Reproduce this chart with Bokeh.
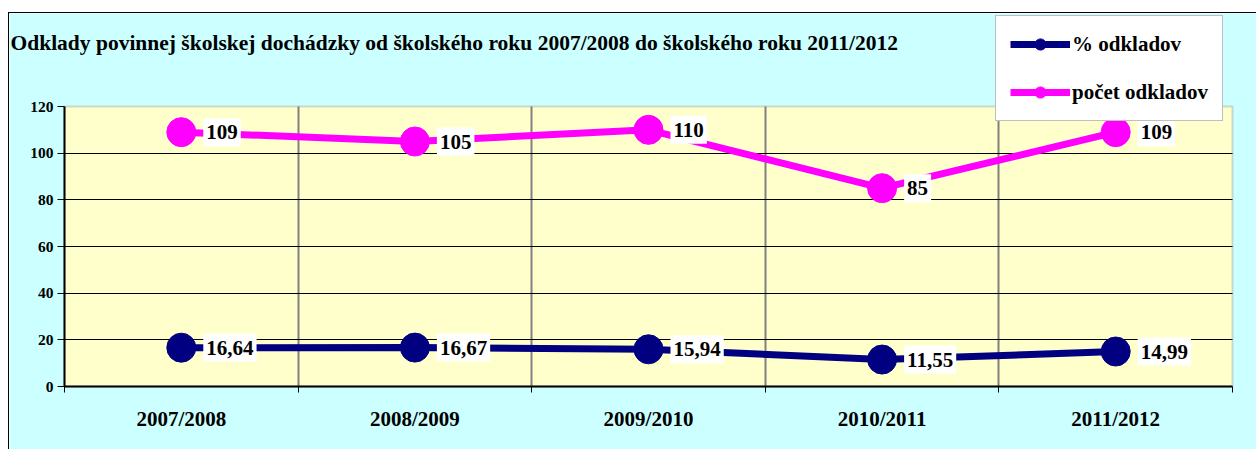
from bokeh.plotting import figure
from bokeh.models import (Range1d, FixedTicker, ColumnDataSource, Legend, LegendItem,
                          Label, BoxAnnotation, Grid)
from bokeh.core.properties import value
from bokeh.embed import file_html
from bokeh.resources import INLINE

years = ["2007/2008", "2008/2009", "2009/2010", "2010/2011", "2011/2012"]
pct = [16.64, 16.67, 15.94, 11.55, 14.99]
count = [109, 105, 110, 85, 109]
y_ticks = [0, 20, 40, 60, 80, 100, 120]
title_text = "Odklady povinnej školskej dochádzky od školského roku 2007/2008 do školského roku 2011/2012"

FONT = "Liberation Serif"
NAVY = "#000080"
MAG = "#FF00FF"
CYAN = "#CCFFFF"
YELLOW = "#FFFFCC"
GRAY = "#808080"

W, H = 1248, 437
# plot-area placement inside the canvas (pixels)
PL, PR, PT, PB = 55, 1223, 93, 373
n = len(years)
ymax = y_ticks[-1]
xs = (PR - PL) / n
ys = (PB - PT) / ymax

xc = [i + 0.5 for i in range(n)]
src = ColumnDataSource(dict(
    x=xc, pct=pct, count=count,
    pct_lbl=[f"{v:.2f}".replace(".", ",") for v in pct],
    cnt_lbl=[str(v) for v in count],
))

p = figure(width=W, height=H, output_backend="svg", toolbar_location=None,
           x_range=Range1d(-PL / xs, n + (W - PR) / xs),
           y_range=Range1d(-(H - PB) / ys, ymax + PT / ys),
           min_border=0, background_fill_color=CYAN, border_fill_color=CYAN)
p.margin = (12, 0, 0, 8)
p.styles = {"border-top": "1px solid black", "border-left": "1px solid black"}
p.outline_line_color = None

# plot area
p.add_layout(BoxAnnotation(left=0, right=n, bottom=0, top=ymax, fill_color=YELLOW,
                           fill_alpha=1, line_color=GRAY, line_width=2, level="image"))

# axes
p.xaxis.fixed_location = 0
p.xaxis.bounds = (0, n)
p.xaxis.ticker = FixedTicker(ticks=xc, minor_ticks=list(range(n + 1)))
p.xaxis.major_label_overrides = {x: y for x, y in zip(xc, years)}
p.xaxis.major_tick_out = 0
p.xaxis.major_tick_in = 0
p.xaxis.minor_tick_out = 6
p.xaxis.minor_tick_in = 0
p.xaxis.minor_tick_line_color = "black"
p.xaxis.major_label_standoff = 14
p.xaxis.major_label_text_font = FONT
p.xaxis.major_label_text_font_style = "bold"
p.xaxis.major_label_text_font_size = "21px"
p.xaxis.major_label_text_color = "black"
p.xaxis.axis_line_color = "black"
p.xaxis.axis_line_width = 2

p.yaxis.fixed_location = 0
p.yaxis.bounds = (0, ymax)
p.yaxis.ticker = FixedTicker(ticks=y_ticks)
p.yaxis.major_tick_out = 7
p.yaxis.major_tick_in = 0
p.yaxis.minor_tick_out = 0
p.yaxis.major_tick_line_color = "black"
p.yaxis.major_label_standoff = 4
p.yaxis.major_label_text_font = FONT
p.yaxis.major_label_text_font_style = "bold"
p.yaxis.major_label_text_font_size = "15.5px"
p.yaxis.major_label_text_color = "black"
p.yaxis.axis_line_color = "black"
p.yaxis.axis_line_width = 2

bounds_x = list(range(1, n))
if "cross_bounds" in Grid.properties():
    p.xgrid.ticker = FixedTicker(ticks=bounds_x)
    p.xgrid.cross_bounds = (0, ymax)
    p.xgrid.grid_line_color = GRAY
    p.xgrid.grid_line_width = 2
    p.ygrid.ticker = FixedTicker(ticks=y_ticks[1:-1])
    p.ygrid.cross_bounds = (0, n)
    p.ygrid.grid_line_color = "black"
    p.ygrid.grid_line_width = 1
else:
    p.xgrid.visible = False
    p.ygrid.visible = False
    p.segment(x0=bounds_x, x1=bounds_x, y0=[0] * len(bounds_x), y1=[ymax] * len(bounds_x),
              line_color=GRAY, line_width=2)
    gy = y_ticks[1:-1]
    p.segment(x0=[0] * len(gy), x1=[n] * len(gy), y0=gy, y1=gy, line_color="black", line_width=1)

# series
l1 = p.line("x", "count", source=src, color=MAG, line_width=7)
s1 = p.scatter("x", "count", source=src, color=MAG, size=29)
l2 = p.line("x", "pct", source=src, color=NAVY, line_width=7)
s2 = p.scatter("x", "pct", source=src, color=NAVY, size=29)

for col, ycol in (("cnt_lbl", "count"), ("pct_lbl", "pct")):
    p.text("x", ycol, text=col, source=src, x_offset=22, text_align="left",
           text_baseline="middle", text_font=value(FONT), text_font_style="bold",
           text_font_size="21px", text_color="black",
           background_fill_color="white", padding=dict(left=3, right=3, top=7, bottom=7))

# title
p.add_layout(Label(x=1, y=H - 29, x_units="screen", y_units="screen", text=title_text,
                   text_font=FONT, text_font_style="bold", text_font_size="21.5px",
                   text_baseline="middle", text_color="black"))

# legend
legend = Legend(items=[LegendItem(label="% odkladov", renderers=[l2, s2]),
                       LegendItem(label="počet odkladov", renderers=[l1, s1])],
                location=(986, H - 108))
legend.label_text_font = FONT
legend.label_text_font_style = "bold"
legend.label_text_font_size = "21px"
legend.label_text_color = "black"
legend.glyph_width = 60
legend.glyph_height = 28
legend.label_height = 28
legend.label_standoff = 2
legend.spacing = 20
legend.padding = 14
legend.margin = 0
legend.border_line_color = GRAY
legend.border_line_width = 1.5
legend.background_fill_color = "white"
legend.background_fill_alpha = 1
p.add_layout(legend, "center")

open("out.html", "w").write(file_html(p, INLINE))
